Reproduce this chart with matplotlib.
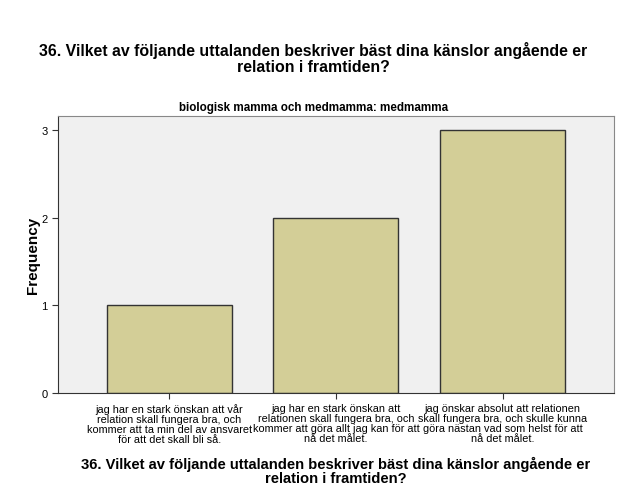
import matplotlib
matplotlib.use('Agg')
import matplotlib.pyplot as plt

# data ---------------------------------------------------------------
categories = [
    'jag har en stark önskan att vår\nrelation skall fungera bra, och\nkommer att ta min del av ansvaret\nför att det skall bli så.',
    'jag har en stark önskan att\nrelationen skall fungera bra, och\nkommer att göra allt jag kan för att\nnå det målet.',
    'jag önskar absolut att relationen\nskall fungera bra, och skulle kunna\ngöra nästan vad som helst för att\nnå det målet.',
]
frequency = [1, 2, 3]
y_ticks = [0, 1, 2, 3]

title = '36. Vilket av följande uttalanden beskriver bäst dina känslor angående er\nrelation i framtiden?'
subtitle = 'biologisk mamma och medmamma: medmamma'

plt.rcParams['font.family'] = ['Liberation Sans', 'DejaVu Sans']

fig = plt.figure(figsize=(6.27, 5.02), dpi=100)
ax = fig.add_axes([0.0925, 0.215, 0.8865, 0.552])
ax.set_facecolor('#F0F0F0')

x = range(len(categories))
ax.bar(x, frequency, width=0.75, color='#D3CE97', edgecolor='#333333', linewidth=1.0)

ax.set_xlim(-0.667, 2.667)
ax.set_ylim(0, 3.16)
ax.set_yticks(y_ticks)
ax.set_yticklabels([str(t) for t in y_ticks], fontsize=8)
ax.set_xticks(list(x))
ax.set_xticklabels(categories, fontsize=7.8, linespacing=1.0)
ax.tick_params(axis='both', direction='out', length=4, width=0.8, color='#333333')

for s in ['left', 'bottom']:
    ax.spines[s].set_color('#333333')
for s in ['top', 'right']:
    ax.spines[s].set_color('#888888')

ax.set_ylabel('Frequency', fontsize=11, fontweight='bold', labelpad=1)
ax.set_xlabel(title, fontsize=10.6, fontweight='bold', labelpad=8, linespacing=1.05)

fig.text(0.5, 0.883, title, ha='center', va='center', fontsize=11.4,
         fontweight='bold', linespacing=1.05)
fig.text(0.5, 0.785, subtitle, ha='center', va='center', fontsize=8.4, fontweight='bold')

fig.savefig('out.png', dpi=100)
